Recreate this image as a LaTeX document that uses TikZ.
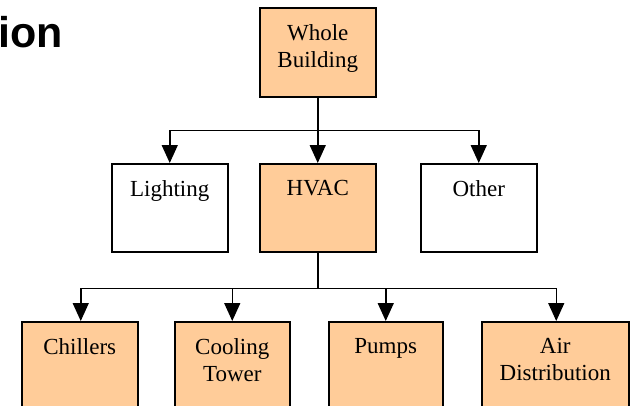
\documentclass[tikz,border=0pt]{standalone}
\usepackage{fontspec}
\setmainfont{Liberation Serif}
\newfontfamily\headfont{Liberation Sans}
\usetikzlibrary{arrows.meta}
\definecolor{peach}{HTML}{FFCC99}
\tikzset{
  box/.style={draw=black, line width=1.5pt, rectangle, anchor=north west, inner sep=0pt},
  boxlabel/.style={anchor=north, inner sep=0pt, yshift=-17pt, align=center, font=\fontsize{23}{27}\selectfont},
  conn/.style={draw=black, line width=1.5pt},
  arr/.style={conn, -{Triangle[length=18pt,width=16pt]}}
}
\begin{document}
\begin{tikzpicture}[x=1pt,y=-1pt]
\useasboundingbox (0,0) rectangle (631,405);
\clip (0,0) rectangle (631,405);
\fill[white] (0,0) rectangle (631,405);
% title fragment
\node[anchor=base east, inner sep=0pt, font=\headfont\bfseries\fontsize{43}{48}\selectfont] (title) at (63,47) {ion};
% top
\node[box, fill=peach, minimum width=116pt, minimum height=89pt,
  label={[boxlabel]north:Whole\\Building}] (wb) at (259,7) {};
% middle row
\node[box, fill=white, minimum width=116pt, minimum height=88pt,
  label={[boxlabel]north:Lighting}] (light) at (111,163) {};
\node[box, fill=peach, minimum width=116pt, minimum height=88pt,
  label={[boxlabel]north:HVAC}] (hvac) at (259,163) {};
\node[box, fill=white, minimum width=116pt, minimum height=88pt,
  label={[boxlabel]north:Other}] (other) at (420,163) {};
% bottom row
\node[box, fill=peach, minimum width=116pt, minimum height=120pt,
  label={[boxlabel]north:Chillers}] (chill) at (21,321) {};
\node[box, fill=peach, minimum width=115pt, minimum height=120pt,
  label={[boxlabel]north:Cooling\\Tower}] (cool) at (174,321) {};
\node[box, fill=peach, minimum width=114pt, minimum height=120pt,
  label={[boxlabel]north:Pumps}] (pump) at (328,321) {};
\node[box, fill=peach, minimum width=147pt, minimum height=120pt,
  label={[boxlabel]north:Air\\Distribution}] (air) at (481,321) {};
% junctions
\path (wb.south) ++(0,33) coordinate (j1);
\path (hvac.south) ++(0,36) coordinate (j2);
% connectors
\draw[conn] (wb.south) -- (j1);
\draw[arr] (j1) -| (light.north);
\draw[arr] (j1) -- (hvac.north);
\draw[arr] (j1) -| (other.north);
\draw[conn] (hvac.south) -- (j2);
\draw[arr] (j2) -| ([xshift=1pt]chill.north);
\draw[arr] (j2) -| (cool.north);
\draw[arr] (j2) -| (pump.north);
\draw[arr] (j2) -| ([xshift=1pt]air.north);
\end{tikzpicture}
\end{document}
